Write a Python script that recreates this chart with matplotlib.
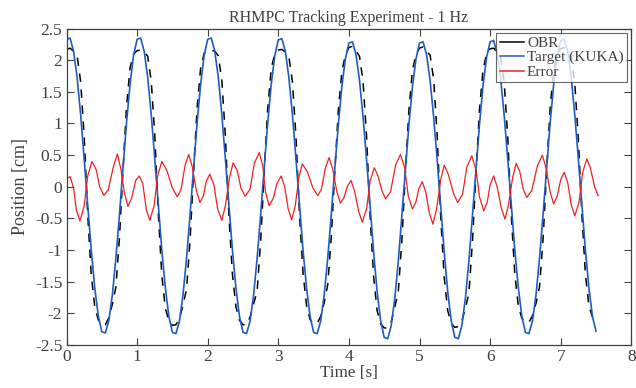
import numpy as np
import matplotlib
matplotlib.use('Agg')
import matplotlib.pyplot as plt
from matplotlib.lines import Line2D

plt.rcParams['font.family'] = ['Liberation Serif', 'DejaVu Serif']
plt.rcParams['axes.unicode_minus'] = False

# sample times for OBR and target (s)
t = np.arange(151) * 0.05

# target position from the KUKA (cm)
target = [
    2.33, 2.35, 2.14, 1.73, 1.14, 0.44, -0.29, -0.99, -1.60, -2.04,
    -2.29, -2.31, -2.11, -1.70, -1.12, -0.44, 0.30, 1.01, 1.62, 2.08,
    2.33, 2.35, 2.14, 1.73, 1.14, 0.44, -0.29, -1.00, -1.60, -2.05,
    -2.30, -2.32, -2.12, -1.71, -1.13, -0.44, 0.30, 1.01, 1.62, 2.08,
    2.33, 2.35, 2.14, 1.73, 1.14, 0.44, -0.29, -1.00, -1.60, -2.05,
    -2.30, -2.32, -2.12, -1.71, -1.13, -0.44, 0.30, 1.01, 1.62, 2.07,
    2.32, 2.34, 2.14, 1.72, 1.14, 0.44, -0.29, -1.00, -1.60, -2.05,
    -2.30, -2.32, -2.12, -1.71, -1.13, -0.44, 0.29, 0.98, 1.58, 2.02,
    2.27, 2.29, 2.09, 1.68, 1.11, 0.43, -0.30, -1.03, -1.66, -2.12,
    -2.38, -2.40, -2.19, -1.76, -1.17, -0.45, 0.29, 0.98, 1.58, 2.02,
    2.27, 2.29, 2.09, 1.68, 1.11, 0.43, -0.30, -1.03, -1.66, -2.12,
    -2.38, -2.40, -2.19, -1.76, -1.17, -0.45, 0.29, 0.99, 1.60, 2.04,
    2.29, 2.31, 2.11, 1.70, 1.12, 0.44, -0.29, -1.00, -1.60, -2.05,
    -2.30, -2.32, -2.12, -1.71, -1.13, -0.44, 0.29, 1.00, 1.61, 2.06,
    2.31, 2.33, 2.13, 1.71, 1.13, 0.44, -0.29, -1.00, -1.60, -2.05,
    -2.28]

# measured position from OBR (cm)
obr = [
    2.17, 2.19, 2.14, 2.07, 1.66, 0.80, -0.43, -1.39, -1.90, -2.10,
    -2.18, -2.18, -2.07, -1.85, -1.58, -0.80, 0.26, 1.27, 1.88, 2.10,
    2.15, 2.16, 2.13, 2.06, 1.67, 0.82, -0.42, -1.40, -1.92, -2.12,
    -2.19, -2.18, -2.08, -1.87, -1.62, -0.84, 0.24, 1.25, 1.88, 2.11,
    2.15, 2.16, 2.14, 2.07, 1.68, 0.80, -0.45, -1.38, -1.90, -2.11,
    -2.18, -2.18, -2.06, -1.85, -1.65, -0.85, 0.22, 1.24, 1.87, 2.10,
    2.16, 2.17, 2.13, 2.05, 1.66, 0.79, -0.44, -1.36, -1.88, -2.10,
    -2.16, -2.16, -2.05, -1.83, -1.55, -0.80, 0.24, 1.20, 1.82, 2.08,
    2.20, 2.22, 2.15, 2.06, 1.67, 0.80, -0.46, -1.42, -1.96, -2.17,
    -2.23, -2.23, -2.13, -1.90, -1.65, -0.85, 0.22, 1.21, 1.84, 2.09,
    2.19, 2.21, 2.14, 2.08, 1.70, 0.82, -0.47, -1.43, -1.96, -2.16,
    -2.22, -2.21, -2.12, -1.92, -1.68, -0.86, 0.21, 1.22, 1.85, 2.10,
    2.18, 2.19, 2.13, 2.05, 1.64, 0.78, -0.45, -1.38, -1.89, -2.08,
    -2.14, -2.14, -2.04, -1.84, -1.58, -0.83, 0.24, 1.24, 1.86, 2.10,
    2.18, 2.20, 2.12, 2.03, 1.62, 0.76, -0.44, -1.38, -1.88, -2.06,
    -2.12]

# tracking error (cm), read at its own times
err_t = [
    0.00, 0.05, 0.10, 0.14, 0.19, 0.25, 0.30, 0.36, 0.42, 0.47,
    0.53, 0.59, 0.66, 0.72, 0.77, 0.82, 0.87, 0.92, 0.98, 1.03,
    1.08, 1.13, 1.18, 1.24, 1.29, 1.35, 1.42, 1.50, 1.57, 1.62,
    1.68, 1.73, 1.78, 1.84, 1.89, 1.94, 1.98, 2.03, 2.09, 2.14,
    2.20, 2.25, 2.31, 2.36, 2.42, 2.47, 2.53, 2.60, 2.66, 2.73,
    2.78, 2.82, 2.87, 2.93, 2.98, 3.04, 3.09, 3.14, 3.19, 3.24,
    3.29, 3.34, 3.41, 3.49, 3.56, 3.61, 3.67, 3.72, 3.77, 3.83,
    3.88, 3.93, 3.98, 4.03, 4.08, 4.14, 4.19, 4.25, 4.30, 4.36,
    4.41, 4.47, 4.52, 4.59, 4.66, 4.73, 4.79, 4.84, 4.90, 4.95,
    4.99, 5.04, 5.09, 5.14, 5.19, 5.24, 5.30, 5.35, 5.41, 5.48,
    5.54, 5.61, 5.67, 5.74, 5.80, 5.85, 5.91, 5.96, 6.00, 6.05,
    6.10, 6.16, 6.21, 6.26, 6.32, 6.37, 6.42, 6.47, 6.52, 6.59,
    6.67, 6.74, 6.79, 6.85, 6.90, 6.95, 7.00, 7.05, 7.10, 7.15,
    7.20, 7.26, 7.31, 7.37, 7.42, 7.48, 7.53]
err_v = [
    0.13, 0.16, -0.02, -0.37, -0.54, -0.30, 0.17, 0.40, 0.27, 0.00,
    -0.14, -0.05, 0.30, 0.52, 0.28, -0.10, -0.31, -0.19, 0.10, 0.17,
    0.05, -0.36, -0.53, -0.30, 0.17, 0.40, 0.26, -0.02, -0.16, -0.05,
    0.34, 0.51, 0.32, -0.06, -0.25, -0.14, 0.09, 0.20, 0.02, -0.35,
    -0.53, -0.30, 0.15, 0.38, 0.25, -0.02, -0.15, -0.04, 0.37, 0.54,
    0.33, -0.09, -0.30, -0.18, 0.05, 0.17, 0.00, -0.35, -0.52, -0.30,
    0.14, 0.36, 0.24, -0.02, -0.14, -0.04, 0.31, 0.46, 0.28, -0.08,
    -0.26, -0.17, 0.01, 0.10, -0.07, -0.40, -0.56, -0.35, 0.09, 0.30,
    0.18, -0.07, -0.19, -0.08, 0.34, 0.51, 0.30, -0.14, -0.35, -0.24,
    -0.03, 0.08, -0.09, -0.42, -0.59, -0.36, 0.11, 0.34, 0.19, -0.10,
    -0.25, -0.12, 0.31, 0.49, 0.27, -0.16, -0.38, -0.24, 0.03, 0.17,
    0.00, -0.34, -0.51, -0.29, 0.15, 0.37, 0.24, -0.04, -0.17, -0.06,
    0.33, 0.50, 0.31, -0.08, -0.27, -0.15, 0.11, 0.23, 0.06, -0.29,
    -0.46, -0.24, 0.22, 0.44, 0.30, 0.00, -0.14]

xticks = [0, 1, 2, 3, 4, 5, 6, 7, 8]
yticks = [-2.5, -2, -1.5, -1, -0.5, 0, 0.5, 1, 1.5, 2, 2.5]
ytick_labels = ['-2.5', '-2', '-1.5', '-1', '-0.5', '0', '0.5', '1', '1.5', '2', '2.5']

grey = '#404040'
blue = '#1f5cc0'
red = '#f22020'

fig = plt.figure(figsize=(6.36, 3.88), dpi=100)
ax = fig.add_axes([0.1046, 0.1108, 0.888, 0.8157])

ax.plot(t, obr, color='black', lw=1.1, ls=(0, (5.5, 5)))
ax.plot(t, target, color=blue, lw=1.2)
ax.plot(err_t, err_v, color=red, lw=0.9)

ax.set_xlim(0, 8)
ax.set_ylim(-2.5, 2.5)
ax.set_xticks(xticks)
ax.set_yticks(yticks)
ax.set_yticklabels(ytick_labels)
ax.tick_params(direction='in', length=5, width=0.8, top=True, right=True,
               labelsize=12.5, colors=grey, pad=3)
for s in ax.spines.values():
    s.set_color(grey)
    s.set_linewidth(0.9)

ax.set_title('RHMPC Tracking Experiment - 1 Hz', fontsize=11.5, color=grey, pad=5)
ax.set_xlabel('Time [s]', fontsize=12.3, color=grey, labelpad=0)
ax.set_ylabel('Position [cm]', fontsize=13, color=grey, labelpad=4)

handles = [Line2D([], [], color='black', lw=1.1),
           Line2D([], [], color=blue, lw=1.1),
           Line2D([], [], color=red, lw=1.1)]
leg = ax.legend(handles, ['OBR', 'Target (KUKA)', 'Error'], loc='upper right',
                fontsize=11, frameon=True, fancybox=False, handlelength=1.6,
                handletextpad=0.2, borderpad=0.2, labelspacing=0.05,
                borderaxespad=0.3)
leg.get_frame().set_edgecolor(grey)
leg.get_frame().set_linewidth(0.8)
for txt in leg.get_texts():
    txt.set_color(grey)

fig.savefig('out.png', dpi=100)
